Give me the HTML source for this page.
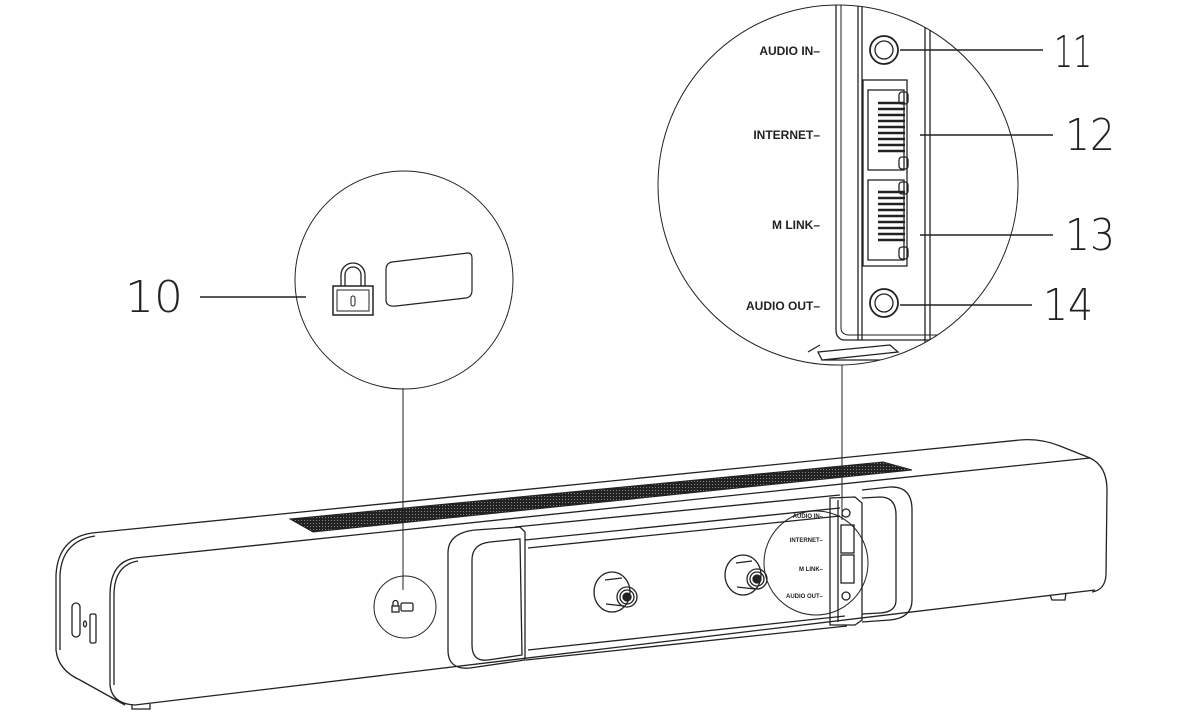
<!DOCTYPE html>
<html><head><meta charset="utf-8"><style>
html,body{margin:0;padding:0;background:#fff;}
svg{display:block}
</style></head><body>
<svg width="1177" height="718" viewBox="0 0 1177 718" xmlns="http://www.w3.org/2000/svg" font-family="Liberation Sans, sans-serif">
<defs>
<pattern id="mesh" width="3" height="3" patternUnits="userSpaceOnUse">
<rect width="3" height="3" fill="#222"/><rect x="1" y="1" width="1" height="1" fill="#888"/>
</pattern>
<clipPath id="big"><circle cx="838" cy="185" r="180"/></clipPath>
</defs>
<g fill="none" stroke="#222" stroke-width="1.3">
<path d="M92,533 L1020,440 Q1040,438 1060,446 L1090,458 Q1107,466 1107,490 L1106,575 Q1105,590 1092,592"/>
<path d="M92,533 Q58,538 56,575 L56,650 Q58,670 80,680 L125,705"/>
<path d="M95,536 Q62,541 60,575 L60,650"/>
<path d="M135,558 L1090,458"/>
<path d="M135,558 Q110,562 110,595 L110,685 Q112,704 135,705 L1095,590"/>
<path d="M138,561 Q114,565 114,595 L114,685"/>
<path d="M132,705 L132,709 L150,709 L150,704"/>
<path d="M1050,595 L1052,600 L1065,600 L1066,593"/>
<rect x="72" y="603" width="8" height="34" rx="4"/>
<ellipse cx="85" cy="624" rx="1.5" ry="3"/>
<rect x="90" y="614" width="6" height="29" rx="1.5"/>
<path d="M290,519 L883,462 L912,470 L313,532 Z" fill="url(#mesh)" stroke-width="1"/>
<path d="M475,530 L520,527 L525,532 L525,660 L470,668 Q448,670 448,650 L448,553 Q448,533 475,530 Z"/>
<path d="M490,542 L520,539 L522,655 L488,660 Q472,662 472,645 L472,560 Q472,544 490,542 Z"/>
<path d="M515,527 L840,495"/>
<path d="M525,540 L840,508"/>
<path d="M528,650 L845,616"/>
<path d="M526,660 L847,626"/>
<path d="M528,548 L840,516"/>
<ellipse cx="612" cy="592" rx="18" ry="20"/>
<path d="M605,580 L622,578 M606,604 L624,606"/>
<circle cx="627" cy="597" r="10"/><circle cx="627" cy="597" r="7"/><circle cx="627" cy="597" r="4" fill="#222"/>
<ellipse cx="743" cy="575" rx="18" ry="20"/>
<path d="M736,563 L752,561 M737,587 L755,589"/>
<circle cx="757" cy="579" r="10"/><circle cx="757" cy="579" r="7"/><circle cx="757" cy="579" r="4" fill="#222"/>
<path d="M830,498 L855,497 L862,503 L862,620 L855,625 L830,625 Z"/>
<path d="M838,500 L838,622"/>
<circle cx="846" cy="513" r="4"/>
<rect x="841" y="525" width="13" height="28"/>
<rect x="841" y="555" width="13" height="28"/>
<circle cx="846" cy="596" r="4"/>
<path d="M862,490 L890,487 Q912,486 912,510 L912,600 Q912,618 890,620 L862,622"/>
<path d="M862,498 L880,497 Q896,497 896,515 L896,600 Q896,612 880,613 L862,614"/>
<circle cx="405" cy="607" r="31" stroke-width="1"/>
<circle cx="816" cy="563" r="52" stroke-width="1"/>
<rect x="392" y="606" width="7" height="6"/>
<path d="M393,606 V603 a2.5,2.5 0 0 1 5,0 V606"/>
<rect x="401" y="603" width="12" height="8" rx="1.5"/>
<line x1="403" y1="388" x2="403" y2="590" stroke-width="1"/>
<line x1="842" y1="365" x2="842" y2="520" stroke-width="1"/>
<line x1="200" y1="297" x2="306" y2="297" stroke-width="1.5"/>
<circle cx="404" cy="280" r="109" stroke-width="1"/>
<rect x="333" y="286" width="40" height="29" stroke-width="1.5"/>
<rect x="337" y="290" width="32" height="21" stroke-width="1"/>
<path d="M341,286 V275 a12,12 0 0 1 24,0 V286 M345,286 V275 a8,8 0 0 1 16,0 V286" stroke-width="1.3"/>
<rect x="351" y="296" width="4" height="10" rx="2" stroke-width="1"/>
<path d="M392,262 L468,253 Q472,253 472,258 L472,290 Q472,297 466,298 L396,306 Q386,307 386,300 L386,270 Q386,263 392,262 Z" stroke-width="1.2"/>
<circle cx="838" cy="185" r="180" stroke-width="1"/>
<g clip-path="url(#big)">
<path d="M836,0 L836,330 Q836,338 843,340 L958,340" stroke-width="1.3"/>
<path d="M841,0 L841,328 Q841,334 848,335 L958,335" stroke-width="1"/>
<path d="M858,0 L858,340 M862,0 L862,340"/>
<path d="M925,0 L925,360 M930,0 L930,360"/>
<path d="M818,352 L890,345 L898,352 L822,360 Z M822,360 L898,360"/>
<path d="M820,345 L808,352"/>
<circle cx="884" cy="50" r="14" stroke-width="1.8"/><circle cx="884" cy="50" r="9"/>
<circle cx="884" cy="303" r="14" stroke-width="1.8"/><circle cx="884" cy="303" r="9"/>
<rect x="863" y="80" width="44" height="186"/>
<rect x="868" y="90" width="36" height="80"/>
<rect x="868" y="180" width="36" height="80"/>
<g stroke-width="2.5">
<path d="M878,103 H905 M878,109 H905 M878,115 H905 M878,121 H905 M878,127 H905 M878,133 H905 M878,139 H905 M878,145 H905 M878,151 H905"/>
<path d="M878,192 H905 M878,198 H905 M878,204 H905 M878,210 H905 M878,216 H905 M878,222 H905 M878,228 H905 M878,234 H905 M878,240 H905"/>
</g>
<rect x="899" y="92" width="9" height="12" rx="3"/><rect x="899" y="157" width="9" height="12" rx="3"/>
<rect x="899" y="182" width="9" height="12" rx="3"/><rect x="899" y="247" width="9" height="12" rx="3"/>
</g>
<g stroke-width="1.5">
<line x1="900" y1="50" x2="1043" y2="50"/>
<line x1="920" y1="135" x2="1053" y2="135"/>
<line x1="920" y1="235" x2="1053" y2="235"/>
<line x1="900" y1="305" x2="1032" y2="305"/>
</g>
</g>
<g fill="#222" font-weight="bold" font-size="12" text-anchor="end">
<text x="820" y="55">AUDIO IN–</text>
<text x="820" y="139">INTERNET–</text>
<text x="820" y="229">M LINK–</text>
<text x="820" y="310">AUDIO OUT–</text>
</g>
<g fill="#222" font-size="6" text-anchor="end" font-weight="bold">
<text x="823" y="518">AUDIO IN–</text>
<text x="823" y="542">INTERNET–</text>
<text x="823" y="571">M LINK–</text>
<text x="823" y="598">AUDIO OUT–</text>
</g>
<g fill="#222" font-size="44" font-family="DejaVu Sans ExtraLight, DejaVu Sans, sans-serif" font-weight="200">
<text x="125" y="312" textLength="58" lengthAdjust="spacingAndGlyphs">10</text>
<text x="1054" y="67" textLength="38" lengthAdjust="spacingAndGlyphs">11</text>
<text x="1065" y="150" textLength="50" lengthAdjust="spacingAndGlyphs">12</text>
<text x="1065" y="250" textLength="50" lengthAdjust="spacingAndGlyphs">13</text>
<text x="1043" y="320" textLength="50" lengthAdjust="spacingAndGlyphs">14</text>
</g>
</svg>
</body></html>
